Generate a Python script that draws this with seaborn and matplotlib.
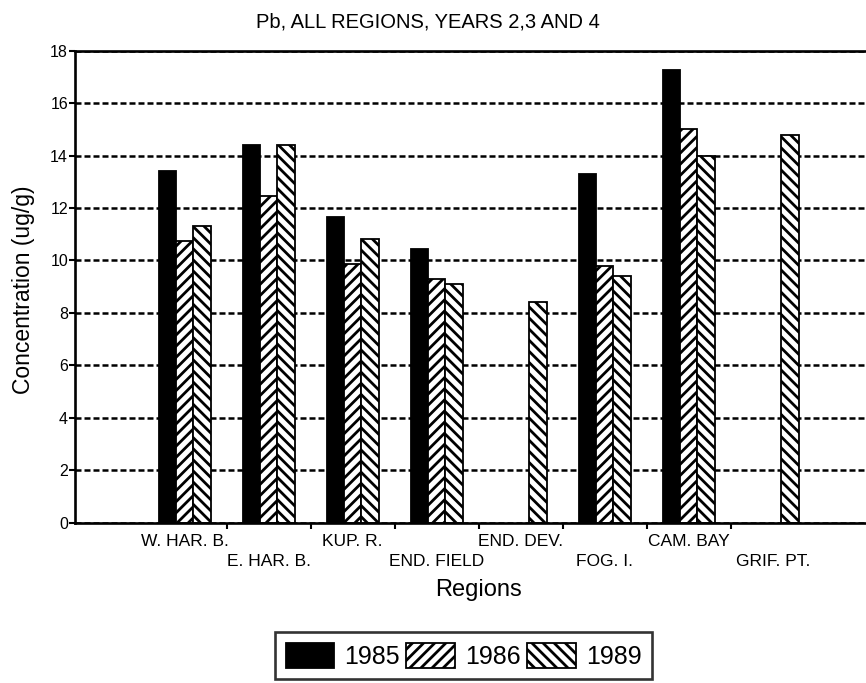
import numpy as np
import pandas as pd
import matplotlib
matplotlib.use('Agg')
import matplotlib.pyplot as plt
from matplotlib.patches import Patch
import seaborn as sns

# ── Data ─────────────────────────────────────────────────────────────────────
regions = ['W. HAR. B.', 'E. HAR. B.', 'KUP. R.', 'END. FIELD',
           'END. DEV.', 'FOG. I.', 'CAM. BAY', 'GRIF. PT.']
years = ['1985', '1986', '1989']
pb_1985 = [13.4, 14.4, 11.65, 10.45, np.nan, 13.3, 17.25, np.nan]
pb_1986 = [10.75, 12.45, 9.85, 9.3, np.nan, 9.8, 15.0, np.nan]
pb_1989 = [11.3, 14.4, 10.8, 9.1, 8.4, 9.4, 14.0, 14.8]
y_ticks = [0, 2, 4, 6, 8, 10, 12, 14, 16, 18]

df = pd.DataFrame({'region': regions * 3,
                   'year': np.repeat(years, len(regions)),
                   'pb': pb_1985 + pb_1986 + pb_1989}).dropna()

# ── Style ────────────────────────────────────────────────────────────────────
sns.set_style('ticks')
plt.rcParams['font.family'] = ['Liberation Sans', 'DejaVu Sans']
plt.rcParams['hatch.linewidth'] = 2.0
plt.rcParams['hatch.color'] = 'black'
for key in ['text.color', 'axes.labelcolor', 'xtick.color', 'ytick.color']:
    plt.rcParams[key] = 'black'

fills = {'1985': 'black', '1986': 'white', '1989': 'white'}
hatches = {'1985': '', '1986': '///', '1989': '\\\\\\'}

fig = plt.figure(figsize=(8.66, 6.83), dpi=100)
ax = fig.add_axes([0.0866, 0.2347, 0.9134, 0.6911])

sns.barplot(data=df, x='region', y='pb', hue='year', order=regions,
            hue_order=years, palette=fills, width=0.62, errorbar=None,
            edgecolor='black', linewidth=1.3, saturation=1, legend=False, ax=ax)

for cont, yr in zip(ax.containers, years):
    for bar in cont.patches:
        bar.set_hatch(hatches[yr])

# ── Axes ─────────────────────────────────────────────────────────────────────
ax.set_xlim(-1.306, 8.11)
ax.set_ylim(0, 18)
ax.set_yticks(y_ticks)
ax.set_yticklabels([str(t) for t in y_ticks], fontsize=11.5)
ax.yaxis.grid(True, color='black', linewidth=1.8, linestyle=(0, (2.4, 1.2)))
ax.set_axisbelow(True)

ax.set_xticks(range(len(regions)))
ax.set_xticklabels([r if i % 2 == 0 else '\n' + r for i, r in enumerate(regions)],
                   fontsize=12.5, linespacing=1.45)
ax.set_xticks(np.arange(0.5, len(regions) - 1, 1), minor=True)
ax.tick_params(axis='x', which='major', length=0, pad=8)
ax.tick_params(axis='x', which='minor', length=4.5, width=1.5, direction='out')
ax.tick_params(axis='y', length=4, width=1.5, direction='out', pad=1)

for side in ['top', 'bottom', 'left']:
    ax.spines[side].set_linewidth(1.9)
    ax.spines[side].set_color('black')
ax.spines['right'].set_visible(False)

ax.set_xlabel('Regions', fontsize=17)
ax.xaxis.set_label_coords(0.51, -0.119)
ax.set_ylabel('Concentration (ug/g)', fontsize=16.5)
ax.yaxis.set_label_coords(-0.0506, 0.493)

fig.text(428 / 866, 1 - 22 / 683, 'Pb, ALL REGIONS, YEARS 2,3 AND 4',
         ha='center', va='center', fontsize=14.5)

handles = [Patch(facecolor=fills[y], edgecolor='black', hatch=hatches[y],
                 linewidth=1.3, label=y) for y in years]
leg = fig.legend(handles=handles, loc='upper center', ncol=3,
                 bbox_to_anchor=(463.5 / 866, 1 - 632 / 683), fontsize=18,
                 frameon=True, fancybox=False, edgecolor='black',
                 handlelength=1.95, handleheight=1.2, handletextpad=0.4,
                 columnspacing=0.25, borderpad=0.42, borderaxespad=0)
leg.get_frame().set_linewidth(1.9)

fig.savefig('out.png', dpi=100)
